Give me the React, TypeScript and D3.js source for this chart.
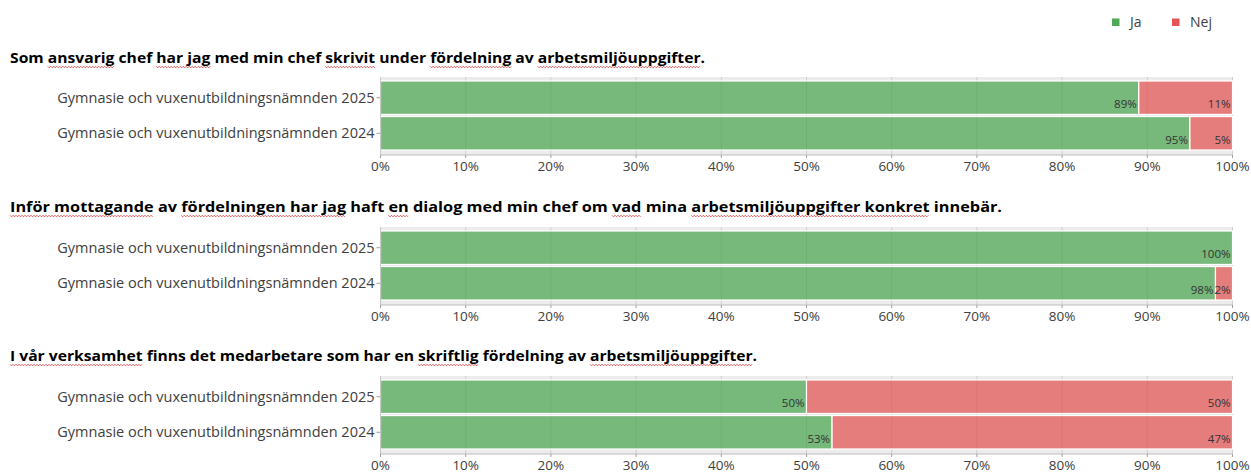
import React, { useEffect, useRef } from 'react';
import * as d3 from 'd3';

const categories = ['Gymnasie och vuxenutbildningsnämnden 2025', 'Gymnasie och vuxenutbildningsnämnden 2024'];
const questions = [
  'Som ansvarig chef har jag med min chef skrivit under fördelning av arbetsmiljöuppgifter.',
  'Inför mottagande av fördelningen har jag haft en dialog med min chef om vad mina arbetsmiljöuppgifter konkret innebär.',
  'I vår verksamhet finns det medarbetare som har en skriftlig fördelning av arbetsmiljöuppgifter.',
];
const jaValues = [[89, 95], [100, 98], [50, 53]];
const nejValues = [[11, 5], [0, 2], [50, 47]];
const tickValues = [0, 10, 20, 30, 40, 50, 60, 70, 80, 90, 100];
const seriesNames = ['Ja', 'Nej'];
// spell-check squiggles under these words
const squiggles = [
  ['ansvarig', 'har jag', 'skrivit', 'fördelning', 'arbetsmiljöuppgifter'],
  ['Inför mottagande', 'fördelningen har jag', ' en ', 'vad', 'arbetsmiljöuppgifter konkret'],
  ['I vår verksamhet', 'skriftlig', 'arbetsmiljöuppgifter'],
];

const W = 1251;
const H = 474;
const panelTops = [77, 227, 376];
const titleY = [63, 212, 361];
const titleWidths = [695, 992, 747];
const green = '#3f9f45';
const red = '#e34848';
const font = '"Open Sans", "Noto Sans", sans-serif';

const x = d3.scaleLinear().domain([0, 100]).range([380.5, 1232.5]);

const App = () => {
  const titles = useRef<(SVGTextElement | null)[]>([]);
  const squiggleLayer = useRef<SVGGElement>(null);

  useEffect(() => {
    const g = d3.select(squiggleLayer.current);
    g.selectAll('*').remove();
    titles.current.forEach((el, qi) => {
      if (!el) return;
      const text = questions[qi];
      squiggles[qi].forEach(phrase => {
        let idx = text.indexOf(phrase);
        if (idx < 0) return;
        idx += phrase.length - phrase.trimStart().length;
        const p = phrase.trim();
        const x0 = el.getStartPositionOfChar(idx).x;
        const x1 = el.getEndPositionOfChar(idx + p.length - 1).x;
        const y0 = titleY[qi] + 3.5;
        const pts: [number, number][] = [];
        for (let xx = x0; xx <= x1; xx += 1.5) {
          const k = Math.round((xx - x0) / 1.5) % 2;
          pts.push([xx, y0 + (k ? 1.3 : -0.2)]);
        }
        g.append('path')
          .attr('d', d3.line()(pts))
          .attr('fill', 'none')
          .attr('stroke', '#e04040')
          .attr('stroke-width', 0.9);
      });
    });
  }, []);

  return (
    <svg width={W} height={H} style={{ position: 'absolute', left: 0, top: 0, background: '#fff' }} fontFamily={font}>
      {/* legend */}
      <g>
        <rect x={1112} y={18.5} width={7.5} height={7.5} fill="#4fa855" />
        <text x={1130} y={27} fontSize={14} fill="#404040">{seriesNames[0]}</text>
        <rect x={1172} y={18.5} width={7.5} height={7.5} fill="#e45454" />
        <text x={1190} y={27} fontSize={14} fill="#404040">{seriesNames[1]}</text>
      </g>

      {questions.map((q, qi) => {
        const top = panelTops[qi];
        const bottom = top + 78;
        const y = d3.scaleBand().domain(categories).range([top + 4, top + 73]).paddingInner(0.06);
        return (
          <g key={qi}>
            <text
              ref={el => { titles.current[qi] = el; }}
              x={10}
              y={titleY[qi]}
              fontSize={14.5}
              fontWeight="bold"
              fill="#000"
              textLength={titleWidths[qi]}
              lengthAdjust="spacingAndGlyphs"
            >
              {q}
            </text>

            <rect x={x(0)} y={top} width={x(100) - x(0)} height={bottom - top} fill="#ececec" />
            {tickValues.map(t => (
              <line key={t} x1={x(t)} x2={x(t)} y1={top} y2={bottom} stroke="#d0d0d0" strokeWidth={1} />
            ))}

            {categories.map((c, ci) => {
              const by = y(c)!;
              const bh = y.bandwidth();
              const ja = jaValues[qi][ci];
              const nej = nejValues[qi][ci];
              return (
                <g key={c}>
                  <rect x={x(0)} y={by} width={x(ja) - x(0)} height={bh} fill={green} fillOpacity={0.68} stroke="#fff" strokeWidth={1.2} />
                  {nej > 0 && (
                    <rect x={x(ja)} y={by} width={x(ja + nej) - x(ja)} height={bh} fill={red} fillOpacity={0.68} stroke="#fff" strokeWidth={1.2} />
                  )}
                  <text x={x(ja) - 2} y={by + bh - 6} fontSize={11.5} textAnchor="end" fill="#333">{ja}%</text>
                  {nej > 0 && (
                    <text x={x(ja + nej) - 2} y={by + bh - 6} fontSize={11.5} textAnchor="end" fill="#333">{nej}%</text>
                  )}
                  <line x1={x(0) - 4} x2={x(0)} y1={by + bh / 2} y2={by + bh / 2} stroke="#a0a0a0" />
                  <text x={x(0) - 6} y={by + bh / 2 + 5} fontSize={14.5} textAnchor="end" fill="#404040">{c}</text>
                </g>
              );
            })}

            <line x1={x(0)} x2={x(0)} y1={top} y2={bottom} stroke="#c8c8c8" />
            <line x1={x(0)} x2={x(100)} y1={bottom} y2={bottom} stroke="#bdbdbd" />
            {tickValues.map(t => (
              <g key={t}>
                <line x1={x(t)} x2={x(t)} y1={bottom} y2={bottom + 3} stroke="#a0a0a0" />
                <text x={x(t)} y={bottom + 16} fontSize={13.5} textAnchor="middle" fill="#404040">{t}%</text>
              </g>
            ))}
          </g>
        );
      })}
      <g ref={squiggleLayer} />
    </svg>
  );
};

export default App;
